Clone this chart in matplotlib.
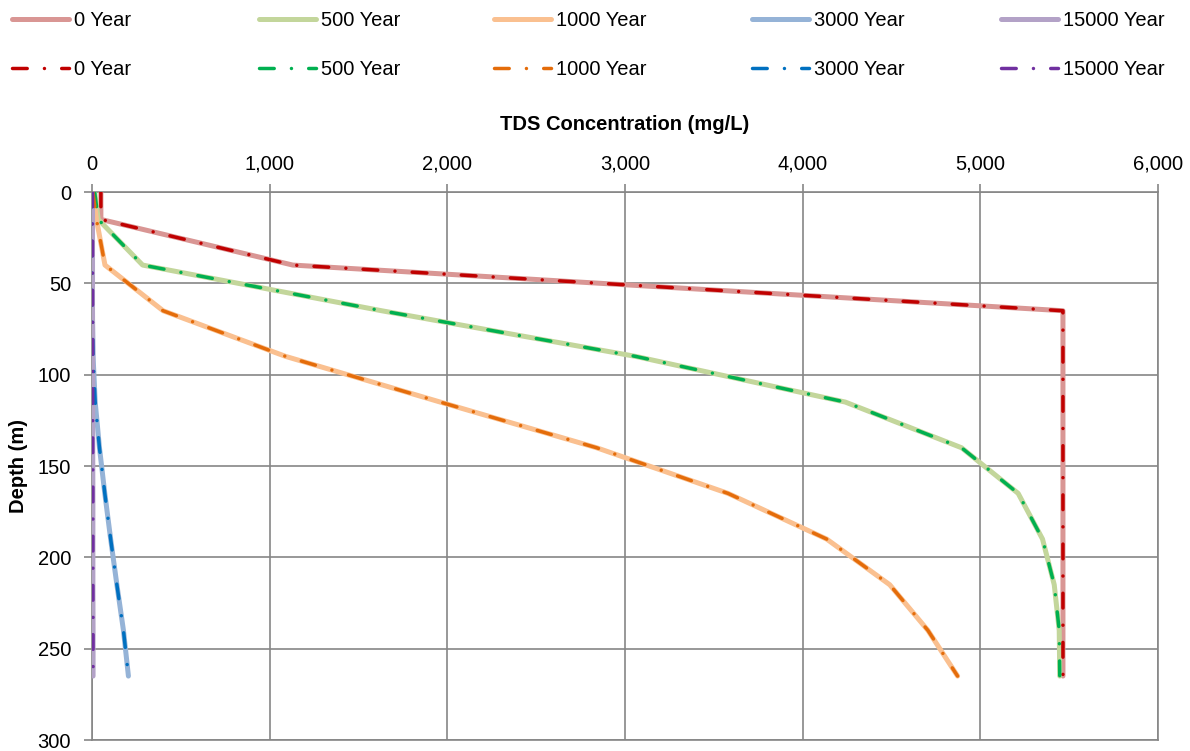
import numpy as np
import matplotlib
matplotlib.use("Agg")
import matplotlib.pyplot as plt
from matplotlib.ticker import FuncFormatter, MultipleLocator

plt.rcParams['font.family'] = ['Liberation Sans', 'DejaVu Sans']
plt.rcParams['lines.scale_dashes'] = False

# depth of each model node (m)
depth = [0, 15, 40, 65, 90, 115, 140, 165, 190, 215, 240, 265]

# TDS concentration (mg/L) per time step
tds_0 = [50, 50, 1130, 5465, 5465, 5465, 5465, 5465, 5465, 5465, 5465, 5465]
tds_500 = [15, 35, 285, 1630, 3060, 4240, 4894, 5213, 5350, 5416, 5444, 5447]
tds_1000 = [5, 25, 73, 400, 1090, 1960, 2840, 3580, 4135, 4490, 4705, 4872]
tds_3000 = [0, 0, 1, 2, 6, 18, 42, 72, 105, 140, 177, 205]
tds_15000 = [3, 3, 3, 3, 4, 4, 4, 5, 5, 5, 6, 6]

years = ['0 Year', '500 Year', '1000 Year', '3000 Year', '15000 Year']
light_colors = ['#D99694', '#C3D69B', '#FAC090', '#95B3D7', '#B3A2C7']
dark_colors = ['#C00000', '#00B050', '#E46C0A', '#0070C0', '#7030A0']
series = [tds_0, tds_500, tds_1000, tds_3000, tds_15000]

fig = plt.figure(figsize=(11.9, 7.51), dpi=100)
ax = fig.add_axes([92 / 1190, 11 / 751, (1158 - 92) / 1190, (740 - 192) / 751])

grid_col = '#868686'
light_lines, dark_lines = [], []
for vals, c in zip(series, light_colors):
    l, = ax.plot(vals, depth, color=c, lw=3.6, solid_capstyle='round',
                 solid_joinstyle='round', zorder=3)
    light_lines.append(l)
for vals, c in zip(series, dark_colors):
    l, = ax.plot(vals, depth, color=c, lw=2.5, dashes=[10.6, 12.4, 0.01, 12.4],
                 dash_capstyle='round', dash_joinstyle='round', zorder=4)
    dark_lines.append(l)

ax.set_xlim(0, 6000)
ax.set_ylim(300, 0)
ax.xaxis.set_major_locator(MultipleLocator(1000))
ax.yaxis.set_major_locator(MultipleLocator(50))
ax.xaxis.set_major_formatter(FuncFormatter(lambda v, p: f'{int(v):,}'))
ax.xaxis.tick_top()
ax.xaxis.set_label_position('top')
ax.tick_params(axis='x', which='both', direction='out', length=6, width=1.2,
               color=grid_col, labelsize=14.5, pad=7, bottom=False)
ax.tick_params(axis='y', which='both', direction='out', length=6, width=1.2,
               color=grid_col, labelsize=14.5, pad=9)
ax.grid(True, color=grid_col, lw=1.2)
ax.set_axisbelow(True)
for s in ax.spines.values():
    s.set_color(grid_col)
    s.set_linewidth(1.2)

ax.set_xlabel('TDS Concentration (mg/L)', fontsize=14.5, fontweight='bold', labelpad=18)
ax.set_ylabel('Depth (m)', fontsize=14.5, fontweight='bold', labelpad=7)

# legend: one column per time step, light row on top, dash-dot row below
col_x = [12, 259, 494, 752, 1001]
for i, x in enumerate(col_x):
    fig.legend([light_lines[i], dark_lines[i]], [years[i], years[i]],
               loc='upper left', bbox_to_anchor=(x / 1190, 1 - 11 / 751),
               frameon=False, fontsize=14.5, handlelength=2.85,
               handletextpad=0.25, borderpad=0, borderaxespad=0,
               labelspacing=1.5)

fig.savefig('out.png', dpi=100)
